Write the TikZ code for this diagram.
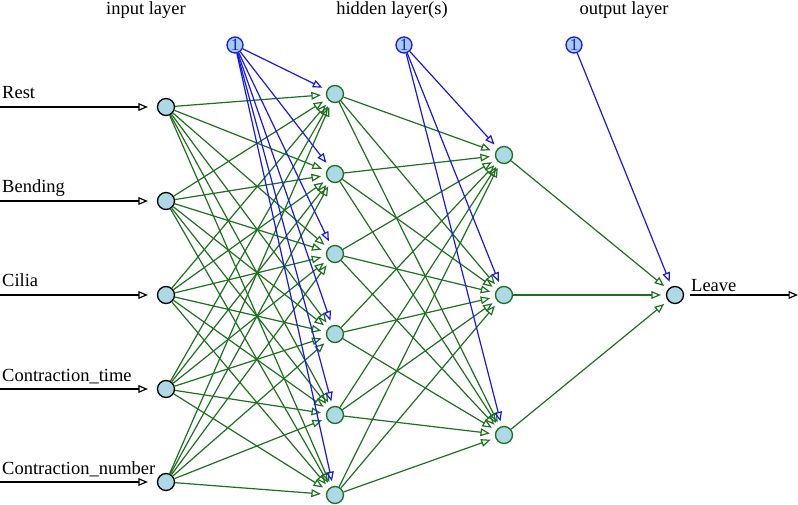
\documentclass[tikz,border=0pt]{standalone}
\usepackage{fontspec}
\setmainfont{Liberation Serif}
\usetikzlibrary{arrows}
\definecolor{wgtgreen}{RGB}{30,112,30}
\definecolor{biasblue}{RGB}{25,25,230}
\definecolor{cellfill}{RGB}{173,216,230}
\definecolor{biasfill}{RGB}{165,205,240}

\begin{document}
\begin{tikzpicture}[x=1pt,y=-1pt,
  unit/.style={circle,draw=black,fill=cellfill,line width=1.3pt,minimum size=17pt,inner sep=0pt},
  hid/.style={unit,draw=wgtgreen},
  bias/.style={unit,draw=biasblue,fill=biasfill,text=biasblue,minimum size=16pt,font=\fontsize{17}{17}\selectfont},
  wgt/.style={draw=wgtgreen,line width=1.2pt,-open triangle 45,shorten >=5pt},
  bwgt/.style={draw=biasblue,line width=1.2pt,-open triangle 45,shorten >=5pt},
  io/.style={draw=black,line width=1.2pt,-open triangle 45},
  lbl/.style={anchor=base west,inner sep=0pt,font=\fontsize{18.5}{20}\selectfont},
  head/.style={anchor=base,inner sep=0pt,font=\fontsize{18.5}{20}\selectfont}]

\useasboundingbox (0,0) rectangle (798,505);

\node[head] (hin)  at (146,15) {input layer};
\node[head] (hhid) at (392,15) {hidden layer(s)};
\node[head] (hout) at (624,15) {output layer};

% input layer
\node[unit] (i1) at (166,107) {};
\node[unit] (i2) at (166,201) {};
\node[unit] (i3) at (166,295) {};
\node[unit] (i4) at (166,389) {};
\node[unit] (i5) at (166,482) {};

% first hidden layer
\node[hid] (h1) at (335,94) {};
\node[hid] (h2) at (335,174) {};
\node[hid] (h3) at (335,254) {};
\node[hid] (h4) at (335,334) {};
\node[hid] (h5) at (335,415) {};
\node[hid] (h6) at (335,495) {};

% second hidden layer
\node[hid] (g1) at (504,155) {};
\node[hid] (g2) at (504,295) {};
\node[hid] (g3) at (504,435) {};

% output
\node[unit] (o1) at (675,295) {};

% bias units
\node[bias] (b1) at (235,45) {1};
\node[bias] (b2) at (404,45) {1};
\node[bias] (b3) at (574,45) {1};

% inputs and labels
\foreach \k/\name in {1/Rest,2/Bending,3/Cilia,4/Contraction\_time,5/Contraction\_number}{
  \coordinate (x\k) at (0,0 |- i\k);
  \draw[io,shorten >=9pt] (x\k) -- (i\k);
  \path (x\k) ++(2,-8) node[lbl] (l\k) {\name};
}

% weights
\foreach \a in {1,...,5}
  \foreach \b in {1,...,6}
    \draw[wgt] (i\a) -- (h\b);
\foreach \a in {1,...,6}
  \foreach \b in {1,...,3}
    \draw[wgt] (h\a) -- (g\b);
\foreach \a in {1,...,3}
  \draw[wgt] (g\a) -- (o1);

\foreach \b in {1,...,6}
  \draw[bwgt] (b1) -- (h\b);
\foreach \b in {1,...,3}
  \draw[bwgt] (b2) -- (g\b);
\draw[bwgt] (b3) -- (o1);

% output
\coordinate (y1) at (798,295);
\draw[io,shorten <=6pt] (o1) -- (y1);
\node[lbl] (lo) at (691,291) {Leave};

\end{tikzpicture}
\end{document}
